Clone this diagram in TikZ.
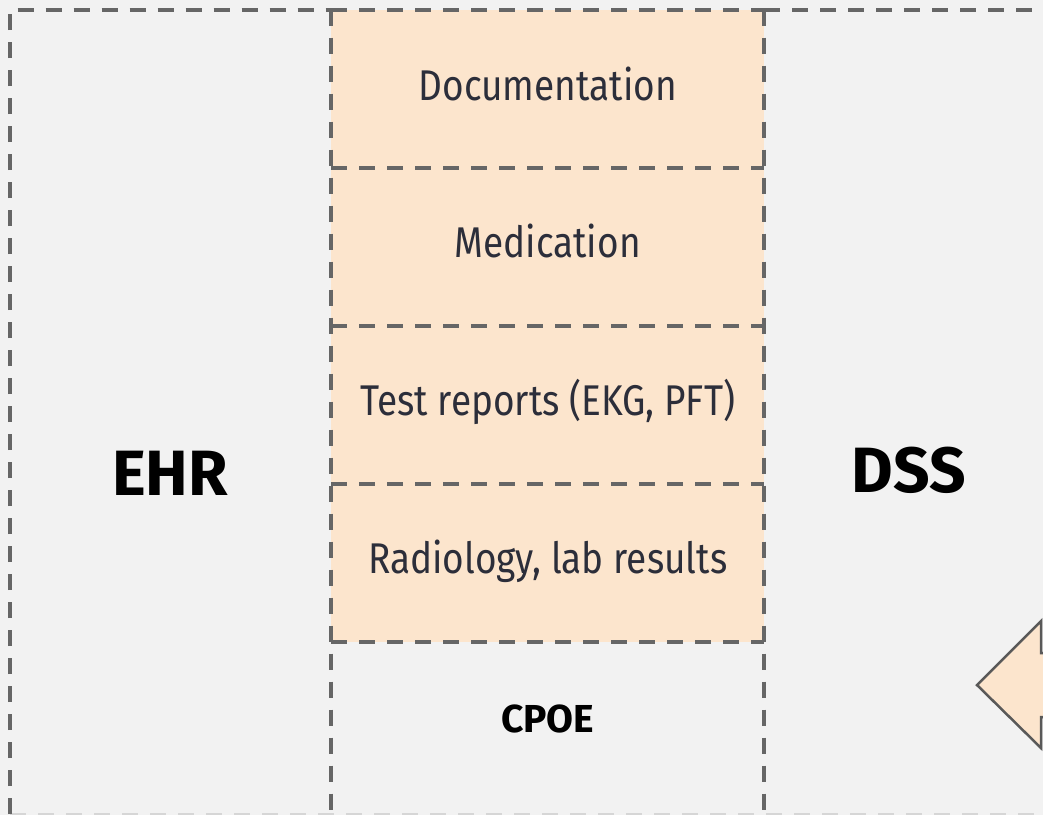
\documentclass[tikz,border=0pt]{standalone}
\usepackage{fontspec}
\setmainfont{Fira Sans}[FakeStretch=0.86, BoldFeatures={FakeStretch=1.0}]
\definecolor{bgray}{HTML}{F2F2F2}
\definecolor{peach}{HTML}{FCE5CD}
\definecolor{dashgray}{HTML}{666666}
\definecolor{ink}{HTML}{2C2E3A}
\definecolor{arrowline}{HTML}{595959}
\tikzset{
  sepline/.style={draw=dashgray, line width=4pt, dash pattern=on 16pt off 12pt},
  cutline/.style={draw=dashgray!20!bgray, line width=2pt, dash pattern=on 16pt off 12pt},
  cell/.style={rectangle, inner sep=0pt, anchor=north west, minimum width=433pt},
  rowbox/.style={cell, fill=peach},
  rowlabel/.style={anchor=base, inner sep=0pt, text=ink,
    font=\fontsize{43}{50}\selectfont},
  bigtitle/.style={anchor=base, inner sep=0pt, text=black,
    font=\bfseries\fontsize{64}{74}\selectfont},
  pointer/.style={draw=arrowline, line width=2.5pt, fill=peach, line join=miter}
}
\begin{document}
\begin{tikzpicture}[x=1pt, y=-1pt]
  \useasboundingbox (0,0) rectangle (1043,815);
  \fill[bgray] (0,0) rectangle (1043,815);
  \begin{scope}
    \clip (0,0) rectangle (1043,815);
    % central stack of record types
    \node[rowbox, minimum height=158pt] (doc) at (331,9.5) {};
    \node[rowbox, minimum height=158pt] (med) at (331,167.5) {};
    \node[rowbox, minimum height=158pt] (test) at (331,325.5) {};
    \node[rowbox, minimum height=158pt] (rad) at (331,483.5) {};
    \node[cell, minimum height=172.5pt] (cpoebox) at (331,641.5) {};
    % outer corners of the two side columns
    \coordinate (ehrtl) at (10,9.5);
    \coordinate (ehrbl) at (10,814);
    \coordinate (dsstr) at (1060,9.5);
    \coordinate (dssbr) at (1060,814);
    % faint bottom edge of the frame, cut by the page border
    \draw[cutline] (ehrbl) -- (dssbr);
    % dashed frame
    \draw[sepline] (ehrbl) -- (ehrtl) -- (doc.north west);
    \draw[sepline] (doc.north west) -- (cpoebox.south west);
    \draw[sepline] (doc.north west) -- (doc.north east);
    \draw[sepline] (doc.north east) -- (cpoebox.south east);
    \draw[sepline] (doc.north east) -- (dsstr);
    \draw[sepline] (med.north west) -- (med.north east);
    \draw[sepline] (test.north west) -- (test.north east);
    \draw[sepline] (rad.north west) -- (rad.north east);
    \draw[sepline] (cpoebox.north west) -- (cpoebox.north east);
    % labels
    \node[rowlabel] (doclabel) at ([yshift=-91pt]doc.north) {Documentation};
    \node[rowlabel] (medlabel) at ([yshift=-90pt]med.north) {Medication};
    \node[rowlabel] (testlabel) at ([yshift=-90pt]test.north) {Test reports (EKG, PFT)};
    \node[rowlabel] (radlabel) at ([yshift=-90pt]rad.north) {Radiology, lab results};
    \node[anchor=base, inner sep=0pt, text=black,
      font=\bfseries\fontsize{39}{46}\selectfont] (cpoe) at ([yshift=-91pt]cpoebox.north) {CPOE};
    \node[bigtitle] (ehr) at (170,495) {EHR};
    \node[bigtitle] (dss) at (909,492) {DSS};
    % arrow entering from the right
    \coordinate (shafttop) at (1050,653);
    \coordinate (shaftbot) at (1050,717);
    \draw[pointer] (shafttop) -- (1041,653) -- (1041,621) -- (977,685)
      -- (1041,748) -- (1041,717) -- (shaftbot);
  \end{scope}
\end{tikzpicture}
\end{document}
